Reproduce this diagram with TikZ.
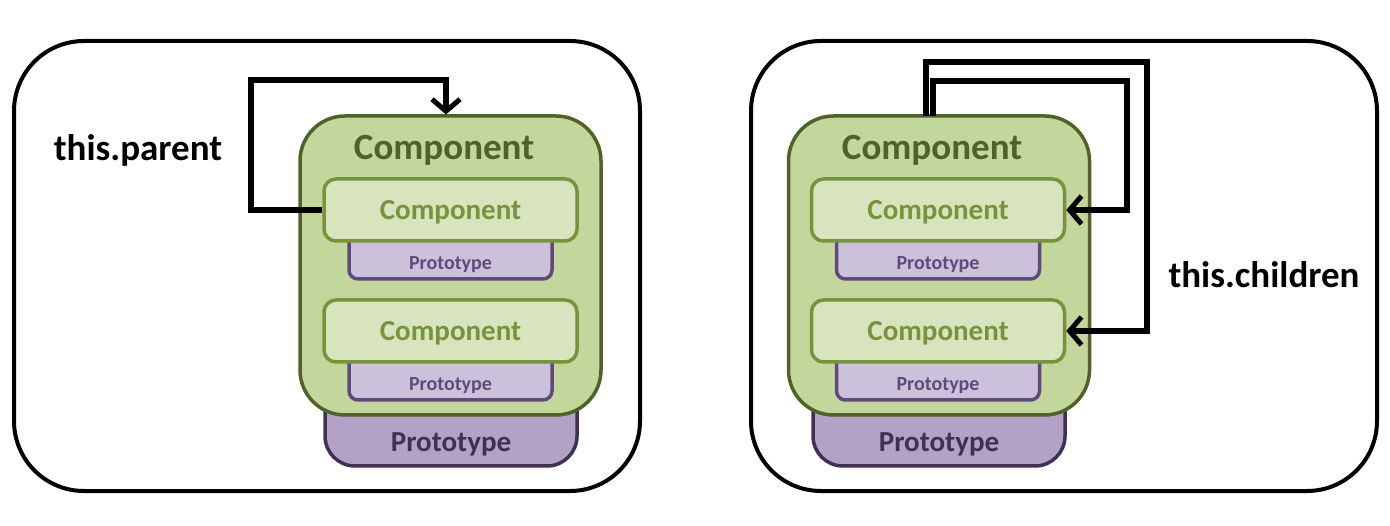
\documentclass[tikz,border=0pt]{standalone}
\usepackage{fontspec}
\setmainfont{Carlito}
\usetikzlibrary{arrows.meta,calc}
\definecolor{bcfill}{HTML}{C3D69B}
\definecolor{bcline}{HTML}{4F6228}
\definecolor{icfill}{HTML}{D7E4BD}
\definecolor{icline}{HTML}{77933C}
\definecolor{spfill}{HTML}{CCC1DA}
\definecolor{spline}{HTML}{604A7B}
\definecolor{bpfill}{HTML}{B3A2C7}
\definecolor{bpline}{HTML}{403152}
\tikzset{
  panel/.style={draw=black, line width=4pt, rounded corners=70pt, inner sep=0pt, minimum width=626pt, minimum height=450pt},
  bigcomp/.style={draw=bcline, fill=bcfill, line width=3.5pt, rounded corners=45pt, inner sep=0pt, minimum width=301pt, minimum height=299pt},
  bigproto/.style={draw=bpline, fill=bpfill, line width=3.5pt, rounded corners=30pt, inner sep=0pt, minimum width=252pt, minimum height=86pt},
  incomp/.style={draw=icline, fill=icfill, line width=3.5pt, rounded corners=12pt, inner sep=0pt, minimum width=253pt, minimum height=62pt},
  ictext/.style={text=icline, font=\bfseries\fontsize{29}{30}\selectfont, inner sep=0pt},
  smproto/.style={draw=spline, fill=spfill, line width=3.5pt, rounded corners=9pt, inner sep=0pt, minimum width=203pt, minimum height=50pt},
  smtext/.style={text=spline, font=\bfseries\fontsize{20}{22}\selectfont, inner sep=0pt},
  bigtitle/.style={text=bcline, font=\bfseries\fontsize{37}{40}\selectfont, inner sep=0pt},
  bptext/.style={text=bpline, font=\bfseries\fontsize{29}{30}\selectfont, inner sep=0pt},
  lbl/.style={text=black, font=\bfseries\fontsize{37}{40}\selectfont, inner sep=0pt},
  arr/.style={draw=black, line width=5.5pt, line join=miter, -{Straight Barb[length=12pt,width=28pt,line width=5pt]}}
}
\begin{document}
\begin{tikzpicture}[x=1pt,y=-1pt]
\useasboundingbox (0,0) rectangle (1390,526);
% panels
\node[panel] (pl) at (327,266) {};
\node[panel] (pr) at (1064,266) {};
% ===== left =====
\node[bigproto] (bpl) at (451,423) {};
\node[bptext] (bplt) at (451,444) {Prototype};
\node[bigcomp] (bcl) at (450.5,265.5) {};
\node[bigtitle] (bclt) at (444,150) {Component};
\node[smproto] (sp1l) at (450.5,254) {};
\node[smtext] (sp1lt) at (450.5,265) {Prototype};
\node[incomp] (ic1l) at (450.5,210) {};
\node[ictext] (ic1lt) at (450.5,212) {Component};
\node[smproto] (sp2l) at (450.5,375) {};
\node[smtext] (sp2lt) at (450.5,386) {Prototype};
\node[incomp] (ic2l) at (450.5,331) {};
\node[ictext] (ic2lt) at (450.5,333) {Component};
\node[lbl] (parent) at (138,150) {this.parent};
\coordinate (pa1) at (251,210);
\coordinate (pa2) at (446,80);
\coordinate (pa3) at (446,114.5);
\draw[arr] (ic1l.west) -- (pa1) |- (pa2) -- (pa3);
% ===== right =====
\node[bigproto] (bpr) at (939,423) {};
\node[bptext] (bprt) at (939,444) {Prototype};
\node[bigcomp] (bcr) at (939,265.5) {};
\node[bigtitle] (bcrt) at (932,150) {Component};
\node[smproto] (sp1r) at (938,254) {};
\node[smtext] (sp1rt) at (938,265) {Prototype};
\node[incomp] (ic1r) at (938,210) {};
\node[ictext] (ic1rt) at (938,212) {Component};
\node[smproto] (sp2r) at (938,375) {};
\node[smtext] (sp2rt) at (938,386) {Prototype};
\node[incomp] (ic2r) at (938,331) {};
\node[ictext] (ic2rt) at (938,333) {Component};
\node[lbl] (children) at (1264,275) {this.children};
\coordinate (o0) at (926,116);
\coordinate (o1) at (926,62);
\coordinate (o2) at (1147,62);
\coordinate (o3) at (1147,331);
\coordinate (i0) at (933,116);
\coordinate (i1) at (933,81);
\coordinate (i2) at (1127,81);
\coordinate (i3) at (1127,210);
\draw[arr] (o0) -- (o1) -- (o2) -- (o3) -- (ic2r.east);
\draw[arr] (i0) -- (i1) -- (i2) -- (i3) -- (ic1r.east);
\end{tikzpicture}
\end{document}
